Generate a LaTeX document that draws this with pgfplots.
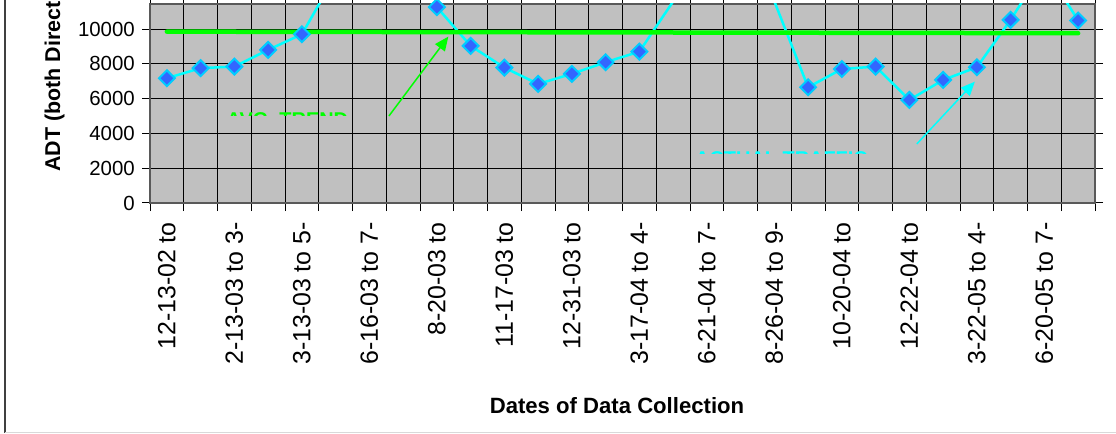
\documentclass[border=0pt]{standalone}
\usepackage{fontspec}
\setmainfont{Liberation Sans}
\usepackage{pgfplots}
\usepackage{pgfplotstable}
\pgfplotsset{compat=1.18}
\usetikzlibrary{arrows.meta}
\definecolor{plotbg}{HTML}{C0C0C0}
\definecolor{mkfill}{HTML}{3366FF}
\definecolor{mkedge}{HTML}{00CCFF}
\definecolor{dcyan}{HTML}{00FFFF}
\definecolor{dgreen}{HTML}{00FF00}
\definecolor{framel}{HTML}{404040}
\definecolor{frameb}{HTML}{D9D9D9}

\pgfplotstableread{
idx adt
0 7180
1 7760
2 7850
3 8810
4 9710
5 13100
6 14000
7 13000
8 11270
9 9040
10 7790
11 6850
12 7430
13 8100
14 8710
15 11600
16 12500
17 12500
18 11600
19 6660
20 7710
21 7850
22 5930
23 7080
24 7810
25 10540
26 13600
27 10500
}\adtdata

\pgfplotstableread{
idx trend
0 9860
27 9770
}\trenddata

\begin{document}
\begin{tikzpicture}[x=1bp,y=1bp]
\begin{axis}[
  at={(150bp,231bp)}, anchor=south west,
  scale only axis, width=945bp, height=199bp,
  xmin=-0.5, xmax=27.5, ymin=0, ymax=11450,
  axis background/.style={fill=plotbg},
  xtick={-0.5,0.5,...,27.5}, xticklabels={},
  extra x ticks={0,2,...,26},
  extra x tick labels={12-13-02 to,2-13-03 to 3-,3-13-03 to 5-,6-16-03 to 7-,8-20-03 to,11-17-03 to,12-31-03 to,3-17-04 to 4-,6-21-04 to 7-,8-26-04 to 9-,10-20-04 to,12-22-04 to,3-22-05 to 4-,6-20-05 to 7-},
  extra x tick style={grid=none, major tick length=0pt},
  ytick={0,2000,...,10000},
  scaled y ticks=false,
  /pgf/number format/set thousands separator={},
  /pgf/number format/assume math mode=true,
  grid=major, major grid style={black, line width=1bp},
  tick align=outside, major tick length=8bp,
  tick style={black, line width=1bp},
  axis line style={draw=black!65, line width=1.5bp},
  x tick label style={yshift=-19bp, rotate=90, anchor=east, inner sep=0pt, font=\fontsize{25}{25}\selectfont},
  y tick label style={xshift=-7bp, anchor=east, inner sep=0pt, font=\fontsize{20.5}{20.5}\selectfont},
  clip=true,
]
\addplot[draw=dcyan, line width=2.5bp, mark=none] table[x=idx,y=adt]{\adtdata};
\addplot[draw=dgreen, line width=4.5bp, line cap=round, mark=none] table[x=idx,y=trend]{\trenddata};
\addplot[only marks, mark=square*, mark size=5.6bp,
  mark options={rotate=45, fill=mkfill, draw=mkedge, line width=2bp},
  restrict y to domain=0:11450] table[x=idx,y=adt]{\adtdata};
\draw[dgreen, line width=1.5bp, -{Triangle[length=14bp,width=12bp]}] (axis cs:6.58,5009) -- (axis cs:8.34,9574);
\draw[dcyan, line width=1.5bp, -{Triangle[length=14bp,width=12bp]}] (axis cs:22.22,3397) -- (axis cs:23.94,6983);
\end{axis}
% annotation text boxes, only a thin top strip visible
\begin{scope}
\clip (220bp,318.9bp) rectangle (365bp,322bp);
\node[anchor=north west, inner sep=0pt, text=dgreen, font=\bfseries\fontsize{20}{20}\selectfont] at (226.5bp,321.7bp) {AVG. TREND};
\end{scope}
\begin{scope}
\clip (690bp,280.2bp) rectangle (880bp,283.2bp);
\node[anchor=north west, inner sep=0pt, text=dcyan, font=\bfseries\fontsize{20}{20}\selectfont] at (695bp,283bp) {ACTUAL TRAFFIC};
\end{scope}
% axis titles
\node[rotate=90, anchor=base west, inner sep=0pt, font=\bfseries\fontsize{21.5}{21.5}\selectfont] at (60bp,262.3bp) {ADT (both Directions)};
\node[anchor=base, inner sep=0pt, font=\bfseries\fontsize{22.2}{22.2}\selectfont] at (617bp,21bp) {Dates of Data Collection};
% chart frame
\draw[framel, line width=2bp] (4.5bp,1.5bp) -- (4.5bp,434bp);
\draw[frameb, line width=1.5bp] (4.5bp,1.5bp) -- (1116bp,1.5bp);
\pgfresetboundingbox
\path[use as bounding box] (0,0) rectangle (1116bp,434bp);
\end{tikzpicture}
\end{document}
